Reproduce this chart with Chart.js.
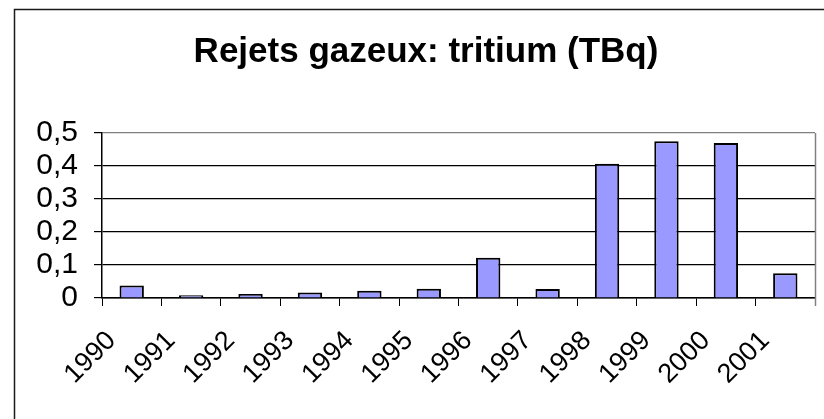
<!DOCTYPE html>
<html lang="fr">
<head>
    <meta charset="UTF-8">
    <title>Rejets gazeux: tritium (TBq)</title>
    <script src="https://cdn.jsdelivr.net/npm/chart.js"></script>
    <style>
        html, body {
            margin: 0;
            padding: 0;
            background-color: #ffffff;
        }
        #wrap {
            position: relative;
            width: 824px;
            height: 419px;
        }
    </style>
</head>
<body>
    <div id="wrap">
        <canvas id="tritiumChart"></canvas>
    </div>

    <script>
        // Données
        const annees = ['1990', '1991', '1992', '1993', '1994', '1995', '1996', '1997', '1998', '1999', '2000', '2001'];
        const rejetsTBq = [0.038, 0.008, 0.012, 0.017, 0.022, 0.028, 0.122, 0.027, 0.407, 0.475, 0.47, 0.075];
        const graduations = [0, 0.1, 0.2, 0.3, 0.4, 0.5];

        const police = '"Liberation Sans", Arial, sans-serif';

        // Cadre extérieur + bordure grise à droite de la zone de tracé
        const cadrePlugin = {
            id: 'cadre',
            afterDraw(chart) {
                const ctx = chart.ctx;
                const area = chart.chartArea;
                ctx.save();
                ctx.strokeStyle = '#1a1a1a';
                ctx.lineWidth = 1.5;
                ctx.beginPath();
                ctx.moveTo(14.5, 419);
                ctx.lineTo(14.5, 9.5);
                ctx.lineTo(824, 9.5);
                ctx.stroke();

                ctx.strokeStyle = '#808080';
                ctx.lineWidth = 1.5;
                ctx.beginPath();
                ctx.moveTo(Math.round(area.right) + 0.5, area.top);
                ctx.lineTo(Math.round(area.right) + 0.5, area.bottom + 8);
                ctx.stroke();
                ctx.restore();
            }
        };

        const ctxTritium = document.getElementById('tritiumChart').getContext('2d');

        const tritiumChart = new Chart(ctxTritium, {
            type: 'bar',
            data: {
                labels: annees,
                datasets: [{
                    label: 'Tritium (TBq)',
                    data: rejetsTBq,
                    backgroundColor: '#9999ff',
                    borderColor: '#000000',
                    borderWidth: 2,
                    categoryPercentage: 1.0,
                    barPercentage: 0.41
                }]
            },
            options: {
                responsive: true,
                maintainAspectRatio: false,
                animation: false,
                layout: {
                    // gauche 37 pour recentrer le titre, droite 9 => zone de tracé 102..815
                    padding: { left: 37, right: 9, top: 0, bottom: 0 }
                },
                plugins: {
                    legend: { display: false },
                    tooltip: { enabled: false },
                    title: {
                        display: true,
                        text: 'Rejets gazeux: tritium (TBq)',
                        color: '#000000',
                        font: { family: police, size: 35, weight: 'bold', lineHeight: 1.2 },
                        padding: { top: 31, bottom: 60 }
                    }
                },
                scales: {
                    x: {
                        grid: {
                            drawOnChartArea: false,
                            drawTicks: true,
                            tickLength: 8,
                            color: '#000000'
                        },
                        border: { display: true, color: '#000000', width: 1.5 },
                        ticks: {
                            color: '#000000',
                            font: { family: police, size: 27 },
                            minRotation: 45,
                            maxRotation: 45,
                            autoSkip: false,
                            labelOffset: -20,
                            padding: 19
                        },
                        afterFit(scale) {
                            scale.height = 121;
                            scale.paddingLeft = 0;
                            scale.paddingRight = 0;
                        }
                    },
                    y: {
                        min: 0,
                        max: 0.5,
                        afterBuildTicks(scale) {
                            scale.ticks = graduations.map(v => ({ value: v }));
                        },
                        grid: {
                            color: (c) => (c.tick && c.tick.value === 0.5 ? '#808080' : '#000000'),
                            tickColor: '#000000',
                            tickLength: 8,
                            lineWidth: 1.2
                        },
                        border: { display: true, color: '#000000', width: 1.5 },
                        ticks: {
                            color: '#000000',
                            font: { family: police, size: 30 },
                            padding: 16,
                            autoSkip: false,
                            callback: (v) => (v === 0 ? '0' : Number(v).toFixed(1).replace('.', ','))
                        },
                        afterFit(scale) {
                            scale.width = 65;
                            scale.paddingTop = 0;
                            scale.paddingBottom = 0;
                        }
                    }
                }
            },
            plugins: [cadrePlugin]
        });
    </script>
</body>
</html>
